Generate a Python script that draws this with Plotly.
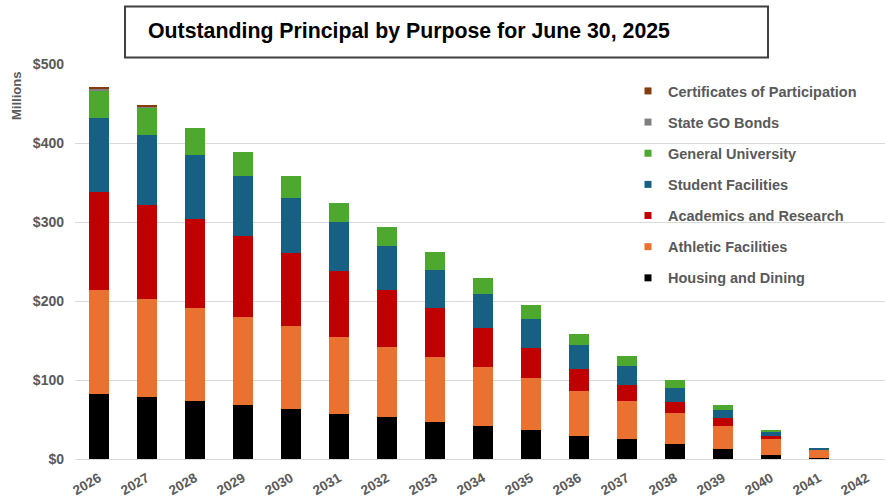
import plotly.graph_objects as go

years = [str(y) for y in range(2026, 2043)]

housing_dining = [82.7, 78.1, 73.8, 68.8, 63.3, 57.0, 52.6, 47.2, 41.7, 36.6, 29.1, 25.0, 18.6, 12.2, 4.6, 1.8, 0]
athletic_facilities = [130.8, 124.9, 117.8, 110.9, 104.6, 97.9, 89.3, 82.1, 74.5, 66.1, 57.6, 47.9, 39.6, 30.0, 20.7, 10.4, 0]
academics_research = [124.1, 118.5, 111.8, 102.2, 92.9, 83.1, 72.4, 61.9, 50.1, 38.4, 26.6, 20.2, 13.5, 9.3, 3.4, 0, 0]
student_facilities = [93.6, 88.6, 81.8, 75.9, 69.2, 62.0, 55.2, 47.5, 42.5, 36.2, 30.7, 24.5, 18.6, 10.9, 5.1, 2.1, 0]
general_university = [35.5, 34.6, 33.4, 31.2, 28.6, 24.4, 24.8, 22.8, 20.7, 17.6, 14.7, 12.9, 9.3, 6.4, 3.3, 0, 0]
state_go_bonds = [2.0, 1.2, 0, 0, 0, 0, 0, 0, 0, 0, 0, 0, 0, 0, 0, 0, 0]
certificates_participation = [2.6, 1.4, 0, 0, 0, 0, 0, 0, 0, 0, 0, 0, 0, 0, 0, 0, 0]

y_tickvals = [0, 100, 200, 300, 400, 500]
y_ticktext = ["$0", "$100", "$200", "$300", "$400", "$500"]

series = [
    ("Housing and Dining", housing_dining, "#000000"),
    ("Athletic Facilities", athletic_facilities, "#E97132"),
    ("Academics and Research", academics_research, "#C00000"),
    ("Student Facilities", student_facilities, "#176083"),
    ("General University", general_university, "#4EA72E"),
    ("State GO Bonds", state_go_bonds, "#808080"),
    ("Certificates of Participation", certificates_participation, "#843C0C"),
]

FONT = "Arial, Liberation Sans, sans-serif"
GRAY = "#595959"

fig = go.Figure()
n = len(series)
for i, (name, vals, color) in enumerate(series):
    fig.add_trace(go.Bar(
        x=years, y=vals, name=name, marker_color=color,
        marker_line_width=0, legendgroup=name, showlegend=False,
        legendrank=n - i,
    ))
    fig.add_trace(go.Scatter(
        x=[None], y=[None], mode="markers", name=name, legendgroup=name,
        marker=dict(symbol="square", size=7, color=color),
        showlegend=True, legendrank=n - i,
    ))

W, H = 885, 498
L, R, T, B = 75, 0, 64, 39
pw, ph = W - L - R, H - T - B

def px_x(x):
    return (x - L) / pw

def px_y(y):
    return (H - B - y) / ph

fig.update_layout(
    width=W, height=H,
    margin=dict(l=L, r=R, t=T, b=B),
    barmode="stack",
    bargap=0.59,
    plot_bgcolor="white",
    paper_bgcolor="white",
    font=dict(family=FONT, color=GRAY),
    legend=dict(
        x=px_x(628), y=px_y(75), xanchor="left", yanchor="top",
        traceorder="grouped", tracegroupgap=9.3,
        font=dict(family=FONT, size=14.5, color=GRAY, weight="bold"),
        bgcolor="rgba(0,0,0,0)",
    ),
    xaxis=dict(
        type="category", range=[-0.5, 16.375],
        tickangle=-30, tickfont=dict(family=FONT, size=13.5, color=GRAY, weight="bold"),
        showgrid=False, showline=False, zeroline=False, ticks="",
        ticklabelstandoff=8,
    ),
    yaxis=dict(
        range=[0, 500], tickvals=y_tickvals, ticktext=y_ticktext,
        tickfont=dict(family=FONT, size=14, color=GRAY, weight="bold"),
        showgrid=True, gridcolor="#D9D9D9", gridwidth=1.3,
        zeroline=True, zerolinecolor="#D9D9D9", zerolinewidth=1.3,
        showline=False, ticks="", ticklabelstandoff=10,
    ),
    shapes=[dict(
        type="rect", xref="paper", yref="paper",
        x0=px_x(125), x1=px_x(768), y0=px_y(57.5), y1=px_y(6.5),
        line=dict(color="#404040", width=2), fillcolor="white", layer="above",
    )],
    annotations=[
        dict(
            text="Outstanding Principal by Purpose for June 30, 2025",
            xref="paper", yref="paper", x=px_x(146), y=px_y(31),
            xanchor="left", yanchor="middle", showarrow=False,
            font=dict(family=FONT, size=21.3, color="#000000", weight="bold"),
        ),
        dict(
            text="Millions", xref="paper", yref="paper",
            x=px_x(16), y=px_y(96), xanchor="center", yanchor="middle",
            textangle=-90, showarrow=False,
            font=dict(family=FONT, size=13, color=GRAY, weight="bold"),
        ),
    ],
)

fig.write_html(
    "out.html",
    config={"displayModeBar": False},
    post_script="document.body.style.margin='0';",
)
